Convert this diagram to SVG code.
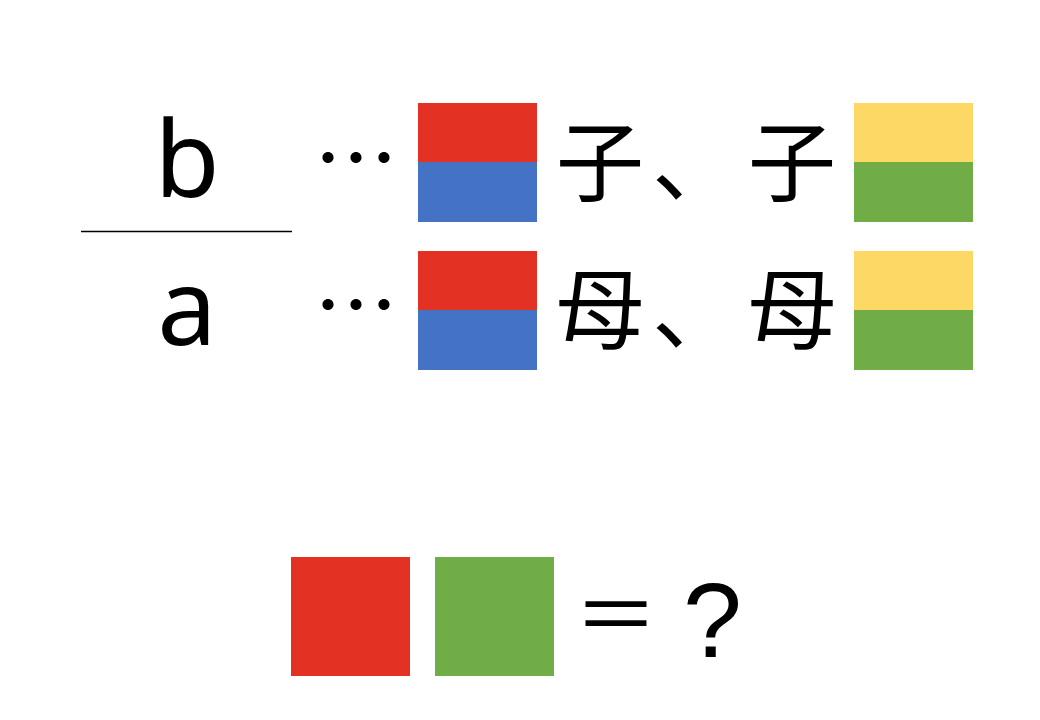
<svg xmlns="http://www.w3.org/2000/svg" width="1040" height="720" viewBox="0 0 1040 720">
<style>
.lat{font-family:"Noto Sans","DejaVu Sans",sans-serif;fill:#000}
.cjk{font-family:"Noto Sans CJK JP","Noto Sans CJK SC",sans-serif;fill:#000}
.red{fill:#e33224}.blue{fill:#4472c4}.yel{fill:#fdd865}.grn{fill:#70ad47}
</style>
<rect width="1040" height="720" fill="#fff"/>
<g id="fraction">
<text class="lat" x="187" y="197" font-size="106" text-anchor="middle">b</text>
<line x1="81" y1="231.5" x2="292" y2="231.5" stroke="#000" stroke-width="1.5"/>
<text class="lat" x="187" y="345" font-size="106" text-anchor="middle">a</text>
</g>
<g id="row-top">
<text class="cjk" x="356" y="190" font-size="84" text-anchor="middle">⋯</text>
<rect class="red" x="418" y="103" width="119" height="60"/>
<rect class="blue" x="418" y="162" width="119" height="60"/>
<text class="cjk" x="556" y="194" font-size="88" letter-spacing="8">子、子</text>
<rect class="yel" x="854" y="103" width="119" height="60"/>
<rect class="grn" x="854" y="162" width="119" height="60"/>
</g>
<g id="row-bottom">
<text class="cjk" x="356" y="337" font-size="84" text-anchor="middle">⋯</text>
<rect class="red" x="418" y="251" width="119" height="60"/>
<rect class="blue" x="418" y="310" width="119" height="60"/>
<text class="cjk" x="556" y="342" font-size="88" letter-spacing="8">母、母</text>
<rect class="yel" x="854" y="251" width="119" height="60"/>
<rect class="grn" x="854" y="310" width="119" height="60"/>
</g>
<g id="question">
<rect class="red" x="291" y="557" width="119" height="119"/>
<rect class="grn" x="435" y="557" width="119" height="119"/>
<text class="cjk" font-size="84"><tspan x="574" y="646">＝</tspan><tspan x="683" y="657" font-family="'Liberation Sans',sans-serif" font-size="106">?</tspan></text>
</g>
</svg>
